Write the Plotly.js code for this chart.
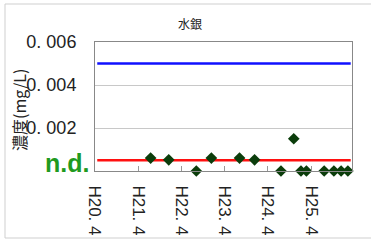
<!DOCTYPE html>
<html><head><meta charset="utf-8">
<script src="https://cdn.plot.ly/plotly-3.0.1.min.js"></script>
<style>body{margin:0;background:#fff}#c{width:371px;height:241px}</style>
</head><body><div id="c"></div>
<script>
const dates = ['2009-07-15','2009-12-15','2010-08-05','2010-12-10','2011-08-05','2011-12-10','2012-07-20','2012-11-05','2013-01-05','2013-02-20','2013-07-20','2013-10-10','2013-12-10','2014-02-05'];
const values = [0.0006,0.00052,0,0.0006,0.0006,0.00052,0,0.0015,0,0,0,0,0,0];
const standard = 0.005;
const ndLevel = 0.0005;
const lineX = ['2008-04-20','2014-03-01'];
const xTickVals = ['2008-04-01','2009-04-01','2010-04-01','2011-04-01','2012-04-01','2013-04-01'];
const xTickText = ['H20. 4','H21. 4','H22. 4','H23. 4','H24. 4','H25. 4'];
const yTickVals = [0,0.002,0.004,0.006];
const yTickText = ['','0. 002','0. 004','0. 006'];

const L=95,R=352,T=42,B=171,W=371,H=241;
const px=(x)=>(x-L)/(R-L), py=(y)=>(B-y)/(B-T);

const traces = [
 {x:lineX,y:[standard,standard],mode:'lines',line:{color:'#1010ff',width:2.5},hoverinfo:'skip'},
 {x:lineX,y:[ndLevel,ndLevel],mode:'lines',line:{color:'#ff1010',width:2.5},hoverinfo:'skip'},
 {x:dates,y:values,mode:'markers',marker:{symbol:'diamond',size:9,color:'#0b3d0b'},cliponaxis:false}
];
const layout = {
 width:W,height:H,margin:{l:L,r:W-R,t:T,b:H-B},
 paper_bgcolor:'#fff',plot_bgcolor:'#fff',showlegend:false,
 font:{family:'Liberation Sans, Arial, sans-serif',color:'#222'},
 title:{text:'水銀',font:{family:'Noto Sans CJK JP',size:12,color:'#222'},x:190/W,xanchor:'center',y:1-25/H,yanchor:'middle'},
 xaxis:{type:'date',range:['2008-04-01','2014-03-12'],tickvals:xTickVals,ticktext:xTickText,tickangle:90,
   tickfont:{size:17,color:'#222'},ticks:'inside',ticklen:5,tickcolor:'#999',showgrid:false,zeroline:false,
   showline:true,linecolor:'#888',linewidth:1,mirror:true,ticklabelstandoff:10},
 yaxis:{range:[0,0.006],tickvals:yTickVals,ticktext:yTickText,tickfont:{size:18,color:'#222'},
   ticks:'',showgrid:true,gridcolor:'#c8c8c8',gridwidth:1,zeroline:false,
   showline:true,linecolor:'#888',linewidth:1,mirror:true,ticklabelstandoff:14},
 annotations:[
  {text:'<b>n.d.</b>',xref:'paper',yref:'paper',x:px(91),y:py(163),xanchor:'right',yanchor:'middle',showarrow:false,
   font:{size:25,color:'#1f9a1f',family:'Liberation Sans, Arial, sans-serif'}},
  {text:'濃度(mg/L)',xref:'paper',yref:'paper',x:px(19),y:py(110),textangle:-90,xanchor:'center',yanchor:'middle',showarrow:false,
   font:{size:16,color:'#222',family:'Noto Sans CJK JP'}}
 ],
 shapes:[
  {type:'rect',xref:'paper',yref:'paper',x0:px(5),x1:px(400),y0:py(4),y1:py(238),line:{color:'#cfcfcf',width:1}}
 ]
};
Plotly.newPlot('c',traces,layout,{staticPlot:true});
</script></body></html>
